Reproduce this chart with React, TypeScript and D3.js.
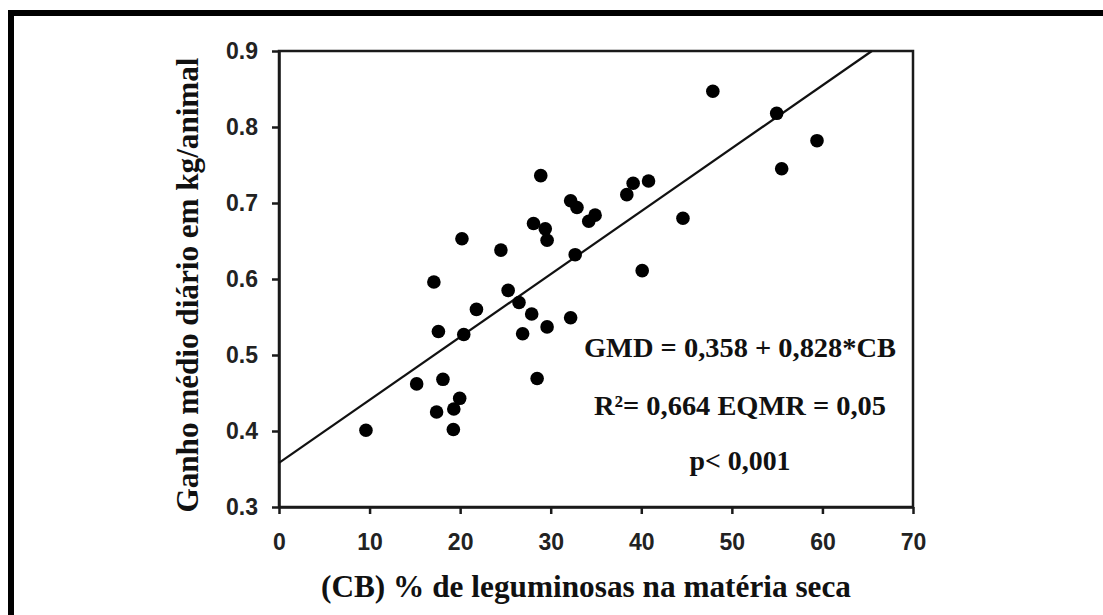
import { useEffect, useRef } from "react"
import * as d3 from "d3"

// % de leguminosas (CB) e ganho médio diário (kg/animal)
const cbPercent = [
  9.6, 15.2, 17.1, 17.6, 17.4, 18.1, 19.3, 19.95, 19.25, 20.4, 21.8, 25.3, 26.5,
  27.9, 26.9, 29.6, 28.5, 32.2, 32.7, 40.1, 20.2, 24.5, 28.1, 29.4, 29.6, 28.9,
  32.2, 32.9, 34.2, 34.9, 38.4, 39.1, 40.8, 47.9, 54.95, 59.4, 55.5, 44.6,
]
const gmd = [
  0.401, 0.462, 0.596, 0.531, 0.425, 0.468, 0.429, 0.443, 0.402, 0.527, 0.56,
  0.585, 0.569, 0.554, 0.528, 0.537, 0.469, 0.549, 0.632, 0.611, 0.653, 0.638,
  0.673, 0.666, 0.651, 0.736, 0.703, 0.694, 0.676, 0.684, 0.711, 0.726, 0.729,
  0.847, 0.818, 0.782, 0.745, 0.68,
]

const intercept = 0.358
const slope = 0.828 // por fração de leguminosa

const xTicks = [0, 10, 20, 30, 40, 50, 60, 70]
const yTicks = [0.3, 0.4, 0.5, 0.6, 0.7, 0.8, 0.9]

const statsLines = ["GMD = 0,358 + 0,828*CB", "R²= 0,664 EQMR = 0,05", "p< 0,001"]

const xTitle = "(CB) % de leguminosas na matéria seca"
const yTitle = "Ganho médio diário em kg/animal"

export default function App() {
  const svgRef = useRef(null)

  useEffect(() => {
    const svg = d3.select(svgRef.current)
    const width = 1103
    const height = 615
    const margin = { top: 51, right: 190, bottom: 108, left: 279 }

    svg.selectAll("*").remove()
    svg.attr("width", width).attr("height", height)

    const serif = "'Liberation Serif', 'Times New Roman', serif"
    const sans = "'Liberation Sans', Arial, sans-serif"

    svg.append("rect").attr("width", width).attr("height", height).attr("fill", "#fff")

    // moldura externa (só topo e esquerda)
    svg.append("rect").attr("x", 8).attr("y", 10).attr("width", width - 8).attr("height", 6).attr("fill", "#000")
    svg.append("rect").attr("x", 8).attr("y", 10).attr("width", 6).attr("height", height - 10).attr("fill", "#000")

    const x = d3
      .scaleLinear()
      .domain([0, 70])
      .range([margin.left, width - margin.right])

    const y = d3
      .scaleLinear()
      .domain([0.3, 0.9])
      .range([height - margin.bottom, margin.top])

    // caixa do gráfico
    svg.append("rect")
      .attr("x", x(0))
      .attr("y", y(0.9))
      .attr("width", x(70) - x(0))
      .attr("height", y(0.3) - y(0.9))
      .attr("fill", "none")
      .attr("stroke", "#1a1a1a")
      .attr("stroke-width", 2.5)

    // Eixos
    const gx = svg.append("g")
      .attr("transform", `translate(0,${y(0.3)})`)
      .call(d3.axisBottom(x).tickValues(xTicks).tickSize(7).tickSizeOuter(0).tickPadding(20))
    gx.select(".domain").attr("stroke", "#1a1a1a").attr("stroke-width", 2.5)
    gx.selectAll(".tick line").attr("stroke", "#1a1a1a").attr("stroke-width", 2.5)
    gx.selectAll(".tick text")
      .attr("font-family", sans)
      .attr("font-weight", "bold")
      .attr("font-size", 23)
      .attr("fill", "#222")

    const gy = svg.append("g")
      .attr("transform", `translate(${x(0)},0)`)
      .call(d3.axisLeft(y).tickValues(yTicks).tickFormat(d3.format(".1f")).tickSize(7).tickSizeOuter(0).tickPadding(14))
    gy.select(".domain").attr("stroke", "#1a1a1a").attr("stroke-width", 2.5)
    gy.selectAll(".tick line").attr("stroke", "#1a1a1a").attr("stroke-width", 2.5)
    gy.selectAll(".tick text")
      .attr("font-family", sans)
      .attr("font-weight", "bold")
      .attr("font-size", 23)
      .attr("fill", "#222")

    // Linha de regressão
    const xEnd = ((0.9 - intercept) / slope) * 100
    const line = d3.line()
      .x(d => x(d[0]))
      .y(d => y(d[1]))
    svg.append("path")
      .datum([
        [0, intercept],
        [xEnd, intercept + (slope * xEnd) / 100],
      ])
      .attr("fill", "none")
      .attr("stroke", "#111")
      .attr("stroke-width", 2.2)
      .attr("d", line)

    // Pontos
    svg.selectAll("circle.pt")
      .data(cbPercent.map((c, i) => [c, gmd[i]]))
      .join("circle")
      .attr("class", "pt")
      .attr("cx", d => x(d[0]))
      .attr("cy", d => y(d[1]))
      .attr("r", 6.8)
      .attr("fill", "#000")

    // Estatísticas
    const baselines = [357, 415, 470]
    const lengths = [312, 292, 101]
    svg.selectAll("text.stat")
      .data(statsLines)
      .join("text")
      .attr("class", "stat")
      .attr("x", 740)
      .attr("y", (d, i) => baselines[i])
      .attr("text-anchor", "middle")
      .attr("font-family", serif)
      .attr("font-weight", "bold")
      .attr("font-size", 28)
      .attr("textLength", (d, i) => lengths[i])
      .attr("lengthAdjust", "spacingAndGlyphs")
      .attr("fill", "#111")
      .text(d => d)

    // Títulos
    svg.append("text")
      .attr("x", 586)
      .attr("y", 597)
      .attr("text-anchor", "middle")
      .attr("font-family", serif)
      .attr("font-weight", "bold")
      .attr("font-size", 31)
      .attr("textLength", 530)
      .attr("lengthAdjust", "spacingAndGlyphs")
      .attr("fill", "#111")
      .text(xTitle)

    svg.append("text")
      .attr("transform", `translate(198,285) rotate(-90)`)
      .attr("text-anchor", "middle")
      .attr("font-family", serif)
      .attr("font-weight", "bold")
      .attr("font-size", 31)
      .attr("textLength", 455)
      .attr("lengthAdjust", "spacingAndGlyphs")
      .attr("fill", "#111")
      .text(yTitle)
  }, [])

  return (
    <svg
      ref={svgRef}
      style={{ position: "absolute", left: 0, top: 0, display: "block" }}
    />
  )
}
